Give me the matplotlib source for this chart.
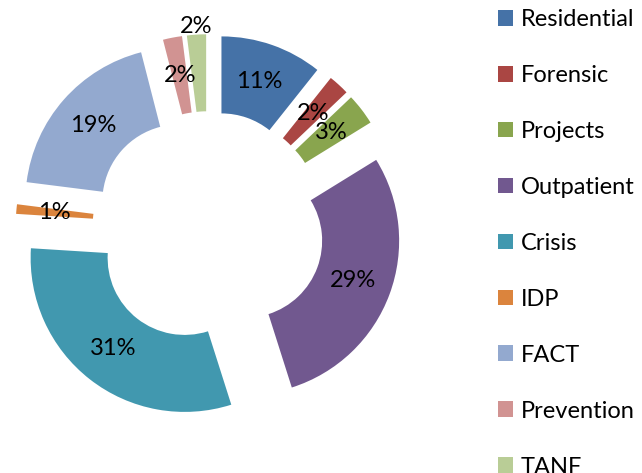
import numpy as np
import matplotlib
matplotlib.use("Agg")
from matplotlib import pyplot as plt

# program share, clockwise from 12 o'clock
labels = ["Residential", "Forensic", "Projects", "Outpatient", "Crisis",
          "IDP", "FACT", "Prevention", "TANF"]
shares = [10.7, 2.2, 3.3, 28.9, 30.9, 1.0, 19.0, 2.0, 2.0]
colors = ["#4572A7", "#AA4643", "#89A54E", "#71588F", "#4198AF",
          "#DB843D", "#93A9CF", "#D19392", "#B9CD96"]

plt.rcParams['font.family'] = ['Lato', 'DejaVu Sans']

W, H = 642, 473
fig = plt.figure(figsize=(W / 100, H / 100), dpi=100)
# pie centre at (208.6, 227.2) px, radius 154 px
side = 2 * 1.3 * 154
ax = fig.add_axes([(208.6 - side / 2) / W, (H - 227.2 - side / 2) / H, side / W, side / H])

wedges, texts, autotexts = ax.pie(
    shares, colors=colors, startangle=90, counterclock=False,
    explode=[0.253] * len(shares), radius=1.0,
    wedgeprops=dict(width=0.5, linewidth=0),
    autopct='%.0f%%', pctdistance=0.75,
    textprops=dict(fontsize=17, color='black'))
ax.set_xlim(-1.3, 1.3)
ax.set_ylim(-1.3, 1.3)
ax.set_aspect('equal')
ax.axis('off')

# TANF label sits just outside its wedge
w = wedges[-1]
th = np.deg2rad((w.theta1 + w.theta2) / 2)
cx, cy = w.center
autotexts[-1].set_position((cx + 1.05 * np.cos(th), cy + 1.05 * np.sin(th)))

fig.legend(wedges, labels, loc='upper left', frameon=False,
           bbox_to_anchor=(498 / W, 1 - 9 / H), borderpad=0, borderaxespad=0,
           fontsize=17, handlelength=0.65, handleheight=0.65,
           handletextpad=0.3, labelspacing=1.48)

fig.savefig('out.png', dpi=100)
